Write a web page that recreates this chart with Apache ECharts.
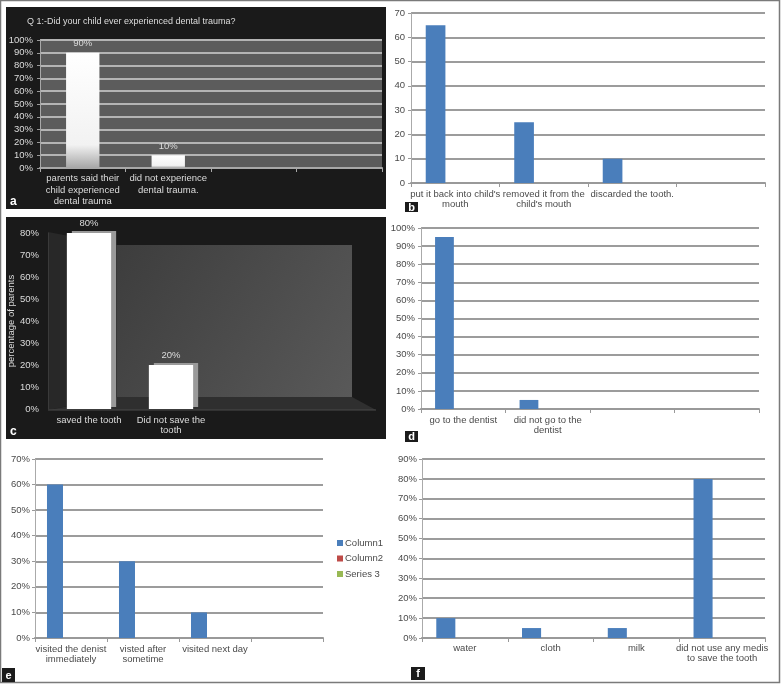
<!DOCTYPE html>
<html><head><meta charset="utf-8">
<script src="https://cdn.jsdelivr.net/npm/echarts@6/dist/echarts.min.js"></script>
<style>html,body{margin:0;padding:0;background:#fff}#c{width:781px;height:684px}</style>
</head><body><div id="c"></div>
<script>
// ---- data ----
const aTitle = 'Q 1:-Did your child ever experienced dental trauma?';
const aCategories = ['parents said their\nchild experienced\ndental trauma', 'did not experience\ndental trauma.', '', ''];
const aValues = [90, 10, '-', '-'];
const aYMax = 100;

const bCategories = ["put it back into child's\nmouth", "removed it from the\nchild's mouth", 'discarded the tooth.', ''];
const bColumn1 = [65, 25, 10, '-'];
const bYMax = 70;

const cCategories = ['saved the tooth', 'Did not save the\ntooth', '', ''];
const cValues = [80, 20, '-', '-'];
const cYMax = 80;
const cYName = 'percentage of parents';

const dCategories = ['go to the dentist', 'did not go to the\ndentist', '', ''];
const dColumn1 = [95, 5, '-', '-'];
const dYMax = 100;

const eCategories = ['visited the denist\nimmediately', 'visted after\nsometime', 'visited next day', ''];
const eColumn1 = [60, 30, 10, '-'];
const eYMax = 70;

const fCategories = ['water', 'cloth', 'milk', 'did not use any medis\nto save the tooth'];
const fColumn1 = [10, 5, 5, 80];
const fYMax = 90;

const seriesNames = ['Column1', 'Column2', 'Series 3'];
const seriesColors = ['#4a7ebb', '#be4b48', '#98b954'];
const yInterval = 10;

// ---- styles ----
const FONT = '"Liberation Sans",Arial,sans-serif';
const FS = 9.5;
const DARK_TXT = '#dcdcdc';
const LIGHT_TXT = '#4a4a4a';

const grids = {
  a: {left: 40, top: 40, width: 342, height: 128},
  b: {left: 411, top: 13, width: 354, height: 170},
  c: {left: 48, top: 233, width: 328, height: 176},
  d: {left: 421, top: 228, width: 338, height: 181},
  e: {left: 35, top: 459, width: 288, height: 179},
  f: {left: 422, top: 459, width: 343, height: 179}
};

const chart = echarts.init(document.getElementById('c'), null, {renderer: 'canvas'});

const gridList = [], xAxes = [], yAxes = [], series = [];
const order = ['a', 'b', 'c', 'd', 'e', 'f'];
const cats = {a: aCategories, b: bCategories, c: cCategories, d: dCategories, e: eCategories, f: fCategories};
const maxes = {a: aYMax, b: bYMax, c: cYMax, d: dYMax, e: eYMax, f: fYMax};
const pct = {a: true, b: false, c: true, d: true, e: true, f: true};
const dark = {a: true, c: true};
const xMargin = {a: 5, b: 6, c: 6, d: 6, e: 6, f: 5};
const yMargin = {a: 7, b: 6, c: 9, d: 6, e: 5, f: 5};

order.forEach((k, i) => {
  const g = grids[k];
  const isDark = !!dark[k];
  const txt = isDark ? DARK_TXT : LIGHT_TXT;
  gridList.push(Object.assign({
    containLabel: false,
    show: k === 'a',
    backgroundColor: k === 'a' ? '#5c5c5c' : 'transparent',
    borderWidth: 0
  }, g));
  xAxes.push({
    type: 'category', gridIndex: i, data: cats[k],
    axisLine: {show: k !== 'c', lineStyle: {color: k === 'a' ? '#a8a8a8' : '#999', width: 2}},
    axisTick: {show: k !== 'c', length: 4, lineStyle: {color: k === 'a' ? '#a8a8a8' : '#999'}},
    axisLabel: {color: txt, fontFamily: FONT, fontSize: FS, lineHeight: k === 'a' ? 11.3 : 10, margin: xMargin[k], interval: 0}
  });
  yAxes.push({
    type: 'value', gridIndex: i, min: 0, max: maxes[k], interval: yInterval,
    name: k === 'c' ? cYName : '',
    nameLocation: 'middle', nameGap: 31, nameRotate: 90,
    nameTextStyle: {color: DARK_TXT, fontFamily: FONT, fontSize: FS},
    axisLine: {show: true, lineStyle: {color: k === 'c' ? '#3a3a3a' : (k === 'a' ? '#a8a8a8' : '#aaa'), width: 1}},
    axisTick: {show: k !== 'c', length: 3, lineStyle: {color: '#999'}},
    axisLabel: {color: txt, fontFamily: FONT, fontSize: FS, margin: yMargin[k],
      formatter: pct[k] ? '{value}%' : '{value}'},
    splitLine: {show: k !== 'c', lineStyle: {color: k === 'a' ? '#b4b4b4' : '#9c9c9c', width: 2}}
  });
});

// panel a bars
series.push({
  type: 'bar', xAxisIndex: 0, yAxisIndex: 0, data: aValues, barWidth: '39%',
  itemStyle: {color: new echarts.graphic.LinearGradient(0, 0, 0, 1, [
    {offset: 0, color: '#ffffff'}, {offset: 0.8, color: '#f2f2f2'}, {offset: 1, color: '#a6a6a6'}])},
  label: {show: true, position: 'top', distance: 4, color: DARK_TXT, fontFamily: FONT, fontSize: FS, formatter: '{c}%'}
});
// panel c bars
series.push({
  type: 'bar', xAxisIndex: 2, yAxisIndex: 2, data: cValues, barWidth: '54%',
  itemStyle: {color: '#ffffff', shadowColor: '#9a9a9a', shadowOffsetX: 5, shadowOffsetY: -2, shadowBlur: 0},
  label: {show: true, position: 'top', distance: 5, color: DARK_TXT, fontFamily: FONT, fontSize: FS, formatter: '{c}%'}
});
// panels b, d, e, f: three series each (only the first has data)
const threeSeries = {b: [1, bColumn1], d: [3, dColumn1], e: [4, eColumn1], f: [5, fColumn1]};
Object.keys(threeSeries).forEach(k => {
  const [idx, vals] = threeSeries[k];
  seriesNames.forEach((nm, j) => {
    series.push({
      type: 'bar', name: k === 'e' ? nm : undefined,
      xAxisIndex: idx, yAxisIndex: idx,
      data: j === 0 ? vals : [],
      barGap: '0%', barCategoryGap: '33.3%',
      itemStyle: {color: seriesColors[j]}
    });
  });
});

// ---- decorations ----
const C = grids.c;
const cx0 = C.left, cx1 = C.left + C.width, cy1 = C.top + C.height;
const wallL = cx0 + 69, wallR = cx1 - 24, wallT = C.top + 12, wallB = cy1 - 12;
function box(x, y, w, h, letter) {
  return {type: 'group', children: [
    {type: 'rect', shape: {x: x, y: y, width: w, height: h}, style: {fill: '#1b1b1b'}, z: 10},
    {type: 'text', x: x + w / 2, y: y + h / 2 + 0.5, style: {text: letter, fill: '#fff', font: 'bold 11px "Liberation Sans", Arial, sans-serif', textAlign: 'center', textVerticalAlign: 'middle'}, z: 11}
  ]};
}
const graphics = [
  {type: 'rect', shape: {x: 0.5, y: 0.5, width: 779, height: 682}, style: {fill: 'none', stroke: '#7a7a7a', lineWidth: 1.5}, z: -10},
  {type: 'rect', shape: {x: 6, y: 7, width: 380, height: 202}, style: {fill: '#1a1a1a'}, z: -9},
  {type: 'rect', shape: {x: 6, y: 217, width: 380, height: 222}, style: {fill: '#1a1a1a'}, z: -9},
  // panel c 3D-like walls
  {type: 'polygon', shape: {points: [[cx0, C.top - 1], [wallL, wallT], [wallL, wallB], [cx0, cy1 + 1]]}, style: {fill: '#282828'}, z: -8},
  {type: 'rect', shape: {x: wallL, y: wallT, width: wallR - wallL, height: wallB - wallT},
    style: {fill: new echarts.graphic.LinearGradient(0, 0, 1, 1, [{offset: 0, color: '#3d3d3d'}, {offset: 1, color: '#595959'}])}, z: -8},
  {type: 'polygon', shape: {points: [[cx0, cy1 + 1], [wallL, wallB], [wallR, wallB], [cx1, cy1 + 1]]}, style: {fill: '#2f2f2f'}, z: -8},
  {type: 'line', shape: {x1: cx0, y1: cy1 + 1, x2: cx1, y2: cy1 + 1}, style: {stroke: '#4a4a4a', lineWidth: 1}, z: -7},
  // panel a title and letters
  {type: 'text', x: 27, y: 22, style: {text: aTitle, fill: DARK_TXT, font: '9px ' + FONT, textVerticalAlign: 'middle'}, z: 5},
  {type: 'text', x: 10, y: 202, style: {text: 'a', fill: '#fff', font: 'bold 12px "Liberation Sans", Arial, sans-serif', textVerticalAlign: 'middle'}, z: 5},
  {type: 'text', x: 10, y: 432, style: {text: 'c', fill: '#fff', font: 'bold 12px "Liberation Sans", Arial, sans-serif', textVerticalAlign: 'middle'}, z: 5},
  box(405, 202, 13, 10, 'b'),
  box(405, 431, 13, 11, 'd'),
  box(2, 668, 13, 14, 'e'),
  box(411, 667, 14, 13, 'f')
];

chart.setOption({
  backgroundColor: '#ffffff',
  animation: false,
  grid: gridList,
  xAxis: xAxes,
  yAxis: yAxes,
  series: series,
  legend: {
    orient: 'vertical', left: 337, top: 537, padding: 0,
    data: seriesNames, icon: 'rect', itemWidth: 6, itemHeight: 6, itemGap: 3.5,
    textStyle: {color: LIGHT_TXT, fontFamily: FONT, fontSize: FS, lineHeight: 12, padding: [0, 0, 0, -3]}
  },
  graphic: graphics
});
</script></body></html>
